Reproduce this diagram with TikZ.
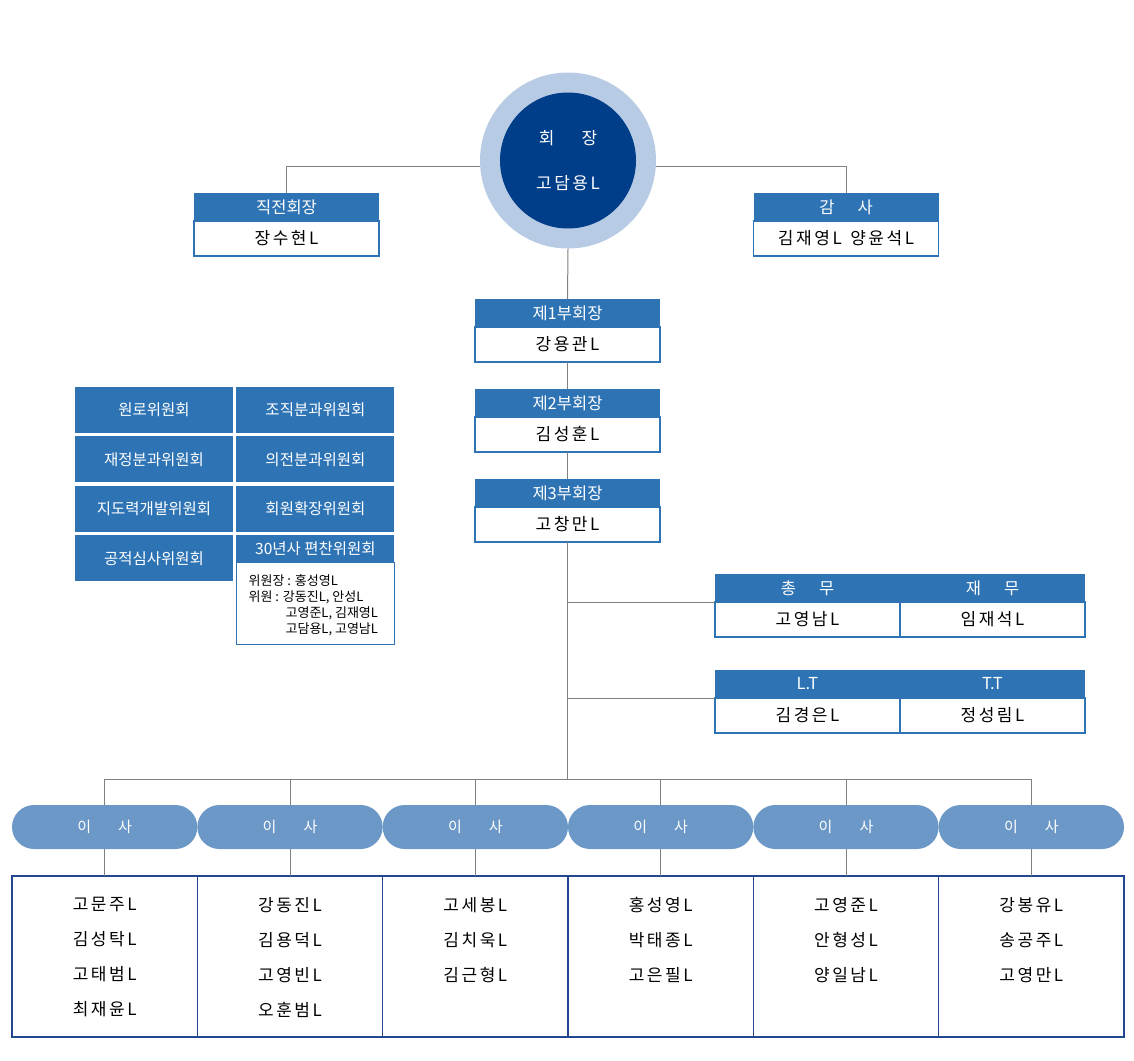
\documentclass[tikz,border=0pt]{standalone}
\usepackage{fontspec}
\setmainfont{Noto Sans CJK KR}
\newfontfamily\namefont[LetterSpace=15]{Noto Sans CJK KR}
\usetikzlibrary{positioning}

\definecolor{headblue}{RGB}{46,116,181}
\definecolor{pillblue}{RGB}{108,152,199}
\definecolor{ringblue}{RGB}{184,203,228}
\definecolor{chairblue}{RGB}{0,62,138}
\definecolor{navyline}{RGB}{35,70,145}
\definecolor{linegray}{RGB}{128,128,128}

\begin{document}
\begin{tikzpicture}[x=1pt, y=-1pt]

\useasboundingbox (0,0) rectangle (1134,1060);

\def\BoxWidth{185pt}
\def\HeadHeight{28pt}
\def\BodyHeight{35pt}
\def\CellWidth{158pt}
\def\CellHeight{46pt}
\def\PillWidth{185.33pt}
\def\Spacing{27pt}

% Styles
\tikzstyle{head} =
	[fill=headblue, text=white, font=\fontsize{16.5}{18}\selectfont,
	 minimum width=\BoxWidth, minimum height=\HeadHeight, inner sep=0pt, outer sep=0pt]

\tikzstyle{body} =
	[draw=headblue, line width=1.5pt, fill=white, font=\namefont\fontsize{17}{20}\selectfont,
	 minimum width=\BoxWidth, minimum height=\BodyHeight, inner sep=0pt, outer sep=0pt]

\tikzstyle{cell} =
	[fill=headblue, text=white, font=\fontsize{15.5}{18}\selectfont,
	 minimum width=\CellWidth, minimum height=\CellHeight, inner sep=0pt]

\tikzstyle{pill} =
	[fill=pillblue, text=white, rounded corners=22pt, font=\fontsize{15}{17}\selectfont,
	 minimum width=\PillWidth, minimum height=44pt, inner sep=0pt, outer sep=0pt]

\tikzstyle{board} =
	[draw=navyline, line width=1.2pt, minimum width=\PillWidth, minimum height=161pt,
	 inner sep=0pt, outer sep=0pt]

\tikzstyle{names} =
	[font=\namefont\fontsize{17}{35}\selectfont, align=center, inner sep=0pt]

\tikzstyle{link} =
	[draw=linegray, line width=1pt]

% Chair
\node (Ring) at (568,160.5)
	[circle, fill=ringblue, minimum size=176pt, inner sep=0pt] {};
\node (Chair) at (Ring)
	[circle, fill=chairblue, minimum size=136pt, inner sep=0pt, text=white, align=center,
	 font=\fontsize{17}{45}\selectfont]
	{회\hspace{1.6em}장\\{\namefont 고담용L}};

\node (PrevHead) at (286.5,207) [head] {직전회장};
\node (Prev) [body, below=0pt of PrevHead] {장수현L};

\node (AuditHead) at (846,207) [head] {감\hspace{1.4em}사};
\node (Audit) [body, below=0pt of AuditHead] {김재영L\hspace{0.5em}양윤석L};

% Vice chairs
\node (VP1Head) at (567.5,313) [head] {제1부회장};
\node (VP1) [body, below=0pt of VP1Head] {강용관L};
\node (VP2Head) [head, below=\Spacing of VP1] {제2부회장};
\node (VP2) [body, below=0pt of VP2Head] {김성훈L};
\node (VP3Head) [head, below=\Spacing of VP2] {제3부회장};
\node (VP3) [body, below=0pt of VP3Head] {고창만L};

% Staff
\node (GenHead) at (807.5,588) [head] {총\hspace{1.4em}무};
\node (Gen) [body, below=0pt of GenHead] {고영남L};
\node (FinHead) [head, right=0pt of GenHead] {재\hspace{1.4em}무};
\node (Fin) [body, below=0pt of FinHead] {임재석L};

\node (LTHead) [head, below=33pt of Gen] {L.T};
\node (LT) [body, below=0pt of LTHead] {김경은L};
\node (TTHead) [head, right=0pt of LTHead] {T.T};
\node (TT) [body, below=0pt of TTHead] {정성림L};

% Committees
\node (Elders) at (154,410) [cell] {원로위원회};
\node (Org) [cell, right=3pt of Elders] {조직분과위원회};
\node (Finance) [cell, below=3pt of Elders] {재정분과위원회};
\node (Rite) [cell, below=3pt of Org] {의전분과위원회};
\node (Leader) [cell, below=3pt of Finance] {지도력개발위원회};
\node (Member) [cell, below=3pt of Rite] {회원확장위원회};
\node (Merit) [cell, below=3pt of Leader] {공적심사위원회};
\node (HistHead) [cell, minimum height=27pt, below=3pt of Member] {30년사 편찬위원회};
\node (Hist) [draw=headblue, line width=1.2pt, minimum width=\CellWidth, minimum height=82pt,
	inner sep=0pt, outer sep=0pt, below=0pt of HistHead] {};
\node (HistText) [below right=12pt and 12pt of Hist.north west, inner sep=0pt, align=left,
	font=\fontsize{13}{16}\selectfont]
	{위원장 : 홍성영L\\
	 위원 : 강동진L, 안성L\\
	 \hspace*{37pt}고영준L, 김재영L\\
	 \hspace*{37pt}고담용L, 고영남L};

% Directors
\node (PillA) at (104.67,827) [pill] {이\hspace{1.8em}사};
\node (PillB) [pill, right=0pt of PillA] {이\hspace{1.8em}사};
\node (PillC) [pill, right=0pt of PillB] {이\hspace{1.8em}사};
\node (PillD) [pill, right=0pt of PillC] {이\hspace{1.8em}사};
\node (PillE) [pill, right=0pt of PillD] {이\hspace{1.8em}사};
\node (PillF) [pill, right=0pt of PillE] {이\hspace{1.8em}사};

\node (BoardA) [board, below=\Spacing of PillA] {};
\node (BoardB) [board, right=0pt of BoardA] {};
\node (BoardC) [board, right=0pt of BoardB] {};
\node (BoardD) [board, right=0pt of BoardC] {};
\node (BoardE) [board, right=0pt of BoardD] {};
\node (BoardF) [board, right=0pt of BoardE] {};

\node (NamesA) [names, below=21pt of BoardA.north] {고문주L\\김성탁L\\고태범L\\최재윤L};
\node (NamesB) [names, below=21pt of BoardB.north] {강동진L\\김용덕L\\고영빈L\\오훈범L};
\node (NamesC) [names, below=21pt of BoardC.north] {고세봉L\\김치욱L\\김근형L};
\node (NamesD) [names, below=21pt of BoardD.north] {홍성영L\\박태종L\\고은필L};
\node (NamesE) [names, below=21pt of BoardE.north] {고영준L\\안형성L\\양일남L};
\node (NamesF) [names, below=21pt of BoardF.north] {강봉유L\\송공주L\\고영만L};

% Edges
\coordinate (BarLeft) at ([yshift=26pt]PillA.north);

\draw[link] (Ring.184) -| (PrevHead.north);
\draw[link] (Ring.-4) -| (AuditHead.north);
\draw[link] (Ring.south) -- (VP1Head.north);
\draw[link] (VP1.south) -- (VP2Head.north);
\draw[link] (VP2.south) -- (VP3Head.north);
\draw[link] (VP3.south) -- (BarLeft -| VP3.south);
\draw[link] (VP3.south |- Gen.north west) -- (Gen.north west);
\draw[link] (VP3.south |- LT.north west) -- (LT.north west);

\draw[link] (PillA.north) -- (BarLeft) -- (BarLeft -| PillF.north) -- (PillF.north);
\draw[link] (PillB.north) -- (PillB.north |- BarLeft);
\draw[link] (PillC.north) -- (PillC.north |- BarLeft);
\draw[link] (PillD.north) -- (PillD.north |- BarLeft);
\draw[link] (PillE.north) -- (PillE.north |- BarLeft);

\draw[link] (PillA.south) -- (BoardA.north);
\draw[link] (PillB.south) -- (BoardB.north);
\draw[link] (PillC.south) -- (BoardC.north);
\draw[link] (PillD.south) -- (BoardD.north);
\draw[link] (PillE.south) -- (BoardE.north);
\draw[link] (PillF.south) -- (BoardF.north);

\end{tikzpicture}
\end{document}
